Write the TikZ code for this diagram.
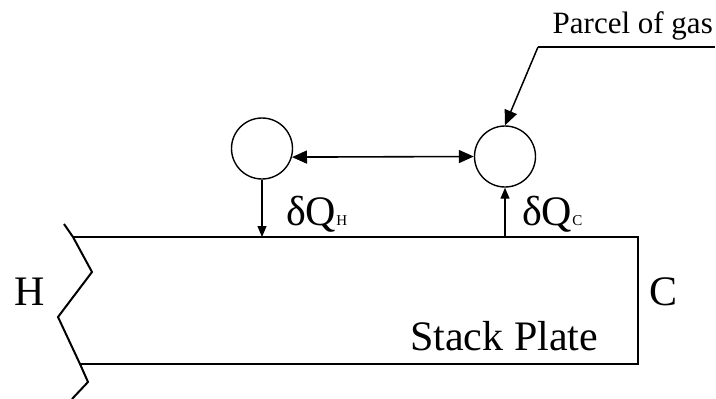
\documentclass[tikz,border=0pt]{standalone}
\usepackage{fontspec}
\setmainfont{Liberation Serif}
\usetikzlibrary{arrows.meta}
\begin{document}
\begin{tikzpicture}[x=1pt,y=-1pt,
  plate/.style={line width=2pt,line join=miter},
  parcel/.style={circle,draw,line width=1.4pt,minimum size=61pt,inner sep=0pt},
  flux/.style={line width=1.2pt,-{Triangle[length=11pt,width=9pt]}},
  swap/.style={line width=1.6pt,{Triangle[length=15pt,width=13pt]}-{Triangle[length=15pt,width=13pt]}},
  leader/.style={line width=1.5pt},
  lead/.style={leader,-{Triangle[length=15pt,width=13pt]}},
  big/.style={font=\fontsize{42}{42}\selectfont,inner sep=0pt},
  lbl/.style={font=\fontsize{31}{31}\selectfont,inner sep=0pt}]
\useasboundingbox (0,0) rectangle (716,399);

% stack plate with broken (zig-zag) hot end
\draw[plate] (64,224) -- (73,237) -- (92,272) -- (58,317) -- (80,364) -- (88,382) -- (72,399);
\draw[plate] (73,237) -- (638,237) -- (638,364) -- (80,364);
\coordinate (hotpt) at (262,237);
\coordinate (coldpt) at (505,237);

\node[big] (hot) at (30,292) {H};
\node[big] (cold) at (664,292) {C};
\node[big,anchor=base west] (plate) at (410,350) {Stack Plate};

% gas parcels
\node[parcel] (lc) at (262,148.5) {};
\node[parcel] (rc) at (505,156.5) {};

\draw[swap] (lc.-16) -- (rc.west);
\draw[flux] (lc.south) -- (hotpt);
\draw[flux] (coldpt) -- (rc.south);

\node[big,anchor=base west] (qh) at (286,225) {δQ\fontsize{15}{15}\selectfont H};
\node[big,anchor=base west] (qc) at (522,225) {δQ\fontsize{15}{15}\selectfont C};

% label with leader
\node[lbl,anchor=base east] (pg) at (713,33) {Parcel of gas};
\coordinate (ledge) at (715,47);
\coordinate (bend) at (538,47);
\draw[leader] (ledge) -- (bend);
\draw[lead] (bend) -- (rc.north);
\end{tikzpicture}
\end{document}
